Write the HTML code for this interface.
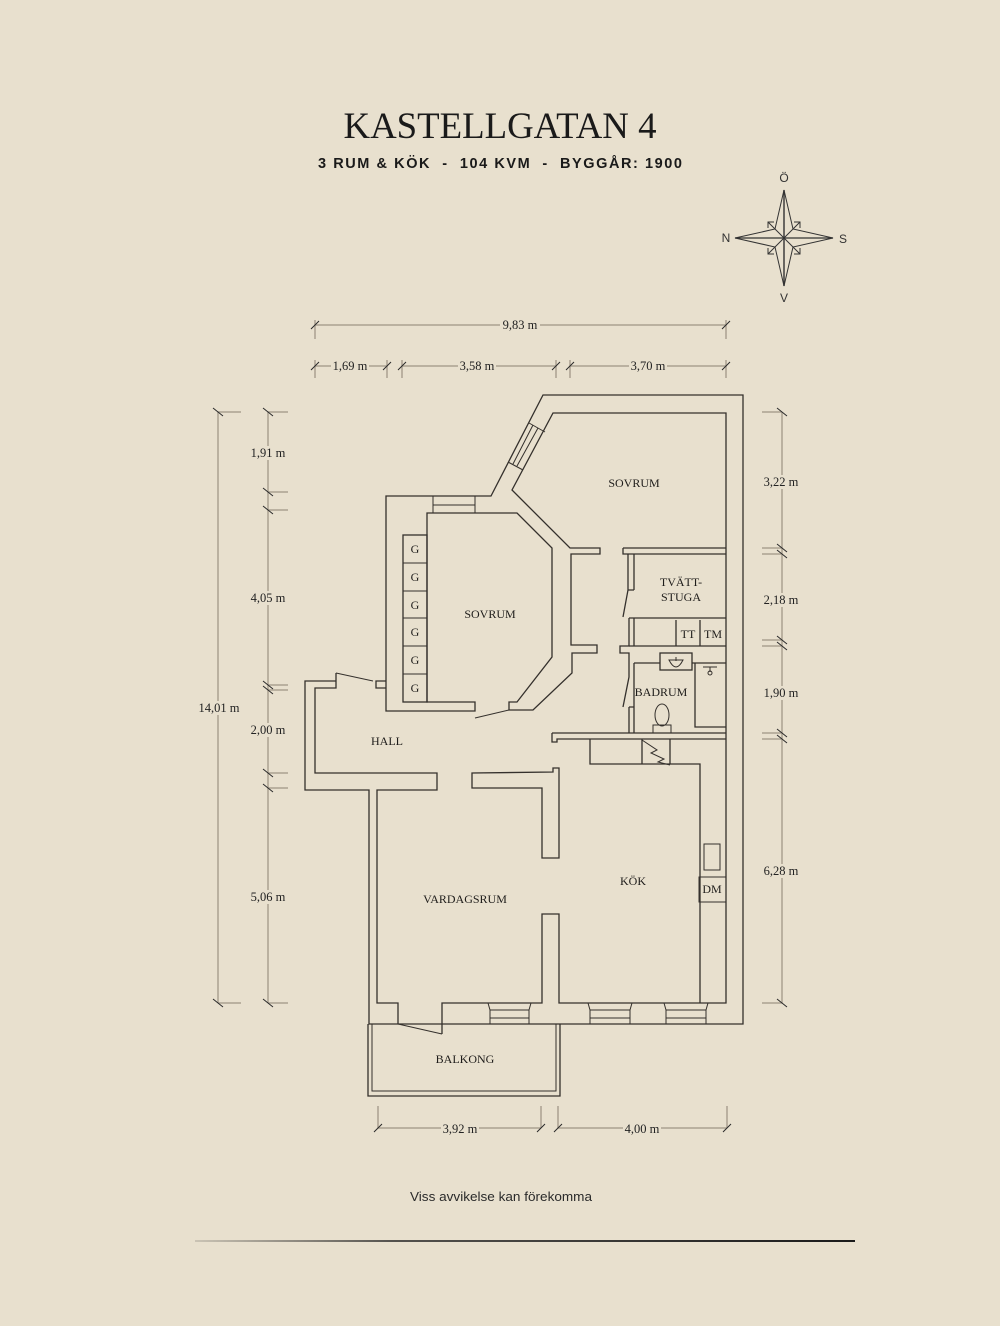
<!DOCTYPE html>
<html>
<head>
<meta charset="utf-8">
<style>
html,body{margin:0;padding:0;background:#e8e0ce;}
svg{display:block;}
.rl{font-family:"Liberation Serif",serif;font-size:12px;fill:#1e1c1a;text-anchor:middle;}
.dl{font-family:"Liberation Serif",serif;font-size:12.5px;fill:#222;text-anchor:middle;}
</style>
</head>
<body>
<svg width="1000" height="1326" viewBox="0 0 1000 1326" xmlns="http://www.w3.org/2000/svg">
<defs>
<linearGradient id="fl" gradientUnits="userSpaceOnUse" x1="195" y1="1241" x2="855" y2="1241">
<stop offset="0" stop-color="#222" stop-opacity="0.15"/>
<stop offset="0.3" stop-color="#222" stop-opacity="0.75"/>
<stop offset="1" stop-color="#1a1a1a" stop-opacity="1"/>
</linearGradient>
</defs>
<rect x="0" y="0" width="1000" height="1326" fill="#e8e0ce"/>

<!-- Header -->
<text x="500" y="138" text-anchor="middle" font-family="Liberation Serif, serif" font-size="37" fill="#1a1a1a" textLength="313" lengthAdjust="spacingAndGlyphs">KASTELLGATAN 4</text>
<text x="500" y="168" text-anchor="middle" font-family="Liberation Sans, sans-serif" font-size="14.5" font-weight="bold" fill="#1a1a1a" xml:space="preserve" textLength="364" lengthAdjust="spacing">3 RUM &amp; KÖK  -  104 KVM  -  BYGGÅR: 1900</text>

<!-- Compass -->
<g stroke="#333" stroke-width="1" fill="none">
<polygon points="784,190 793,229 833,238 793,247 784,286 775,247 735,238 775,229"/>
<line x1="784" y1="190" x2="784" y2="286" stroke-width="1.4"/>
<line x1="735" y1="238" x2="833" y2="238" stroke-width="1.2"/>
<line x1="775" y1="229" x2="793" y2="247"/>
<line x1="793" y1="229" x2="775" y2="247"/>
<line x1="775" y1="229" x2="768" y2="222"/><polyline points="768,228 768,222 774,222"/>
<line x1="793" y1="229" x2="800" y2="222"/><polyline points="794,222 800,222 800,228"/>
<line x1="775" y1="247" x2="768" y2="254"/><polyline points="768,248 768,254 774,254"/>
<line x1="793" y1="247" x2="800" y2="254"/><polyline points="794,254 800,254 800,248"/>
</g>
<g font-family="Liberation Sans, sans-serif" font-size="12" fill="#333" text-anchor="middle">
<text x="784" y="182">Ö</text>
<text x="726" y="242">N</text>
<text x="843" y="243">S</text>
<text x="784" y="302">V</text>
</g>

<!-- Dimension lines -->
<g stroke="#aaa191" stroke-width="1.5" fill="none">
<line x1="315" y1="325" x2="726" y2="325"/>
<line x1="315" y1="320" x2="315" y2="339"/><line x1="726" y1="320" x2="726" y2="339"/>
<line x1="315" y1="366" x2="387" y2="366"/>
<line x1="402" y1="366" x2="556" y2="366"/>
<line x1="570" y1="366" x2="726" y2="366"/>
<line x1="315" y1="360" x2="315" y2="378"/><line x1="387" y1="360" x2="387" y2="378"/>
<line x1="402" y1="360" x2="402" y2="378"/><line x1="556" y1="360" x2="556" y2="378"/>
<line x1="570" y1="360" x2="570" y2="378"/><line x1="726" y1="360" x2="726" y2="378"/>
<line x1="218" y1="412" x2="218" y2="1003"/>
<line x1="218" y1="412" x2="241" y2="412"/><line x1="218" y1="1003" x2="241" y2="1003"/>
<line x1="268" y1="412" x2="268" y2="1003"/>
<line x1="268" y1="412" x2="288" y2="412"/>
<line x1="268" y1="492" x2="288" y2="492"/>
<line x1="268" y1="510" x2="288" y2="510"/>
<line x1="268" y1="685" x2="288" y2="685"/>
<line x1="268" y1="690" x2="288" y2="690"/>
<line x1="268" y1="773" x2="288" y2="773"/>
<line x1="268" y1="788" x2="288" y2="788"/>
<line x1="268" y1="1003" x2="288" y2="1003"/>
<line x1="782" y1="412" x2="782" y2="1003"/>
<line x1="762" y1="412" x2="782" y2="412"/>
<line x1="762" y1="548" x2="782" y2="548"/>
<line x1="762" y1="554" x2="782" y2="554"/>
<line x1="762" y1="640" x2="782" y2="640"/>
<line x1="762" y1="646" x2="782" y2="646"/>
<line x1="762" y1="733" x2="782" y2="733"/>
<line x1="762" y1="739" x2="782" y2="739"/>
<line x1="762" y1="1003" x2="782" y2="1003"/>
<line x1="378" y1="1128" x2="541" y2="1128"/>
<line x1="558" y1="1128" x2="727" y2="1128"/>
<line x1="378" y1="1106" x2="378" y2="1128"/><line x1="541" y1="1106" x2="541" y2="1128"/>
<line x1="558" y1="1106" x2="558" y2="1128"/><line x1="727" y1="1106" x2="727" y2="1128"/>
</g>
<g stroke="#2a2a2a" stroke-width="1" fill="none">
<path d="M311,329 L319,321 M722,329 L730,321"/>
<path d="M311,370 L319,362 M383,370 L391,362 M398,370 L406,362 M552,370 L560,362 M566,370 L574,362 M722,370 L730,362"/>
<path d="M213,408 L223,416 M213,999 L223,1007"/>
<path d="M263,408 L273,416 M263,488 L273,496 M263,506 L273,514 M263,681 L273,689 M263,686 L273,694 M263,769 L273,777 M263,784 L273,792 M263,999 L273,1007"/>
<path d="M777,408 L787,416 M777,544 L787,552 M777,550 L787,558 M777,636 L787,644 M777,642 L787,650 M777,729 L787,737 M777,735 L787,743 M777,999 L787,1007"/>
<path d="M374,1132 L382,1124 M537,1132 L545,1124 M554,1132 L562,1124 M723,1132 L731,1124"/>
</g>
<g fill="#e8e0ce">
<rect x="500" y="318" width="40" height="14"/>
<rect x="331" y="359" width="38" height="14"/>
<rect x="458" y="359" width="38" height="14"/>
<rect x="629" y="359" width="38" height="14"/>
<rect x="196" y="701" width="46" height="14"/>
<rect x="249" y="446" width="38" height="14"/>
<rect x="249" y="591" width="38" height="14"/>
<rect x="249" y="723" width="38" height="14"/>
<rect x="249" y="890" width="38" height="14"/>
<rect x="762" y="475" width="38" height="14"/>
<rect x="762" y="593" width="38" height="14"/>
<rect x="762" y="686" width="38" height="14"/>
<rect x="762" y="864" width="38" height="14"/>
<rect x="441" y="1122" width="38" height="14"/>
<rect x="623" y="1122" width="38" height="14"/>
</g>
<g class="dl">
<text class="dl" x="520" y="329">9,83 m</text>
<text class="dl" x="350" y="370">1,69 m</text>
<text class="dl" x="477" y="370">3,58 m</text>
<text class="dl" x="648" y="370">3,70 m</text>
<text class="dl" x="219" y="712">14,01 m</text>
<text class="dl" x="268" y="457">1,91 m</text>
<text class="dl" x="268" y="602">4,05 m</text>
<text class="dl" x="268" y="734">2,00 m</text>
<text class="dl" x="268" y="901">5,06 m</text>
<text class="dl" x="781" y="486">3,22 m</text>
<text class="dl" x="781" y="604">2,18 m</text>
<text class="dl" x="781" y="697">1,90 m</text>
<text class="dl" x="781" y="875">6,28 m</text>
<text class="dl" x="460" y="1133">3,92 m</text>
<text class="dl" x="642" y="1133">4,00 m</text>
</g>

<!-- Walls -->
<g fill="none" stroke="#34302c" stroke-width="1.3" stroke-linejoin="miter">
<path d="M336,681 L305,681 L305,790 L369,790 L369,1024 L743,1024 L743,395 L543,395 L491,496 L386,496 L386,711 L475,711 L475,702 L427,702 L427,513 L517,513 L552,548 L552,657 L517,702 L509,702 L509,710 L533,710 L572,673 L572,653 L597,653 L597,645 L571,645 L571,554 L600,554 L600,548 L570,548 L512,490 L553,413 L726,413 L726,1003 L559,1003 L559,914 L542,914 L542,1003 L442,1003 L442,1034"/>
<path d="M336,673 L336,688 L315,688 L315,773 L437,773 L437,790 L377,790 L377,1003 L398,1003 L398,1024"/>
<path d="M472,773 L553,772 L553,768 L559,768 L559,858 L542,858 L542,788 L472,788 Z"/>
<path d="M386,681 L376,681 L376,688 L386,688"/>
<path d="M336,673 L373,681" stroke-width="1"/>
<path d="M475,718 L509,710" stroke-width="1"/>
<path d="M398,1024 L442,1034" stroke-width="1"/>
<path d="M623,548 L726,548 M623,548 L623,554 L628,554 M628,554 L726,554"/>
<path d="M628,554 L628,590 L623,617 M628,590 L634,590"/>
<path d="M629,618 L629,646 L620,646 L620,653 L629,653 L629,677 L623,707 M629,707 L629,733"/>
<path d="M634,554 L634,590 M634,618 L634,646 M634,663 L634,733 M629,618 L634,618 M629,707 L634,707"/>
<path d="M634,618 L726,618 M629,646 L726,646 M676,620 L676,646 M700,620 L700,646"/>
<path d="M634,663 L660,663 M692,663 L726,663"/>
<rect x="660" y="653" width="32" height="17"/>
<path d="M669,660 Q676,674 683,660 Z" stroke-width="1"/>
<path d="M676,657 L676,661" stroke-width="1"/>
<path d="M695,663 L695,727 L726,727"/>
<path d="M703,667 L717,667 M710,667 L710,672" stroke-width="1"/>
<circle cx="710" cy="673" r="2" stroke-width="1"/>
<ellipse cx="662" cy="715" rx="7" ry="11" stroke-width="1"/>
<rect x="653" y="725" width="18" height="8" stroke-width="1"/>
<path d="M552,733 L726,733 M552,733 L552,742 L557,742 L557,739 L726,739"/>
<path d="M590,739 L590,764 L700,764 L700,1003 M642,739 L642,764 M670,739 L670,764"/>
<path d="M642,740 L657,750 L651,753 L664,759 L658,762 L670,765" stroke-width="1"/>
<rect x="704" y="844" width="16" height="26" stroke-width="1"/>
<rect x="699" y="877" width="27" height="25" stroke-width="1"/>
<path d="M488,1003 L490,1010 L490,1024 M531,1003 L529,1010 L529,1024 M490,1010 L529,1010 M490,1018 L529,1018" stroke-width="1"/>
<path d="M588,1003 L590,1010 L590,1024 M632,1003 L630,1010 L630,1024 M590,1010 L630,1010 M590,1018 L630,1018" stroke-width="1"/>
<path d="M664,1003 L666,1010 L666,1024 M708,1003 L706,1010 L706,1024 M666,1010 L706,1010 M666,1018 L706,1018" stroke-width="1"/>
<path d="M433,496 L433,513 M475,496 L475,513 M433,505 L475,505" stroke-width="1"/>
<path d="M529,423 L545,432 M508,462 L523,470 M533,425 L513,464 M538,428 L517,466" stroke-width="1"/>
<rect x="403" y="535" width="24" height="167"/>
<path d="M403,563 L427,563 M403,591 L427,591 M403,618 L427,618 M403,646 L427,646 M403,674 L427,674" stroke-width="1"/>
<path d="M368,1024 L368,1096 L560,1096 L560,1024"/>
<path d="M372,1024 L372,1091 L556,1091 L556,1024" stroke-width="1"/>
</g>

<!-- Room labels -->
<g class="rl">
<text class="rl" x="634" y="487">SOVRUM</text>
<text class="rl" x="490" y="618">SOVRUM</text>
<text class="rl" x="681" y="586">TVÄTT-</text>
<text class="rl" x="681" y="601">STUGA</text>
<text class="rl" x="688" y="638" font-size="11">TT</text>
<text class="rl" x="713" y="638" font-size="11">TM</text>
<text class="rl" x="661" y="696">BADRUM</text>
<text class="rl" x="387" y="745">HALL</text>
<text class="rl" x="633" y="885">KÖK</text>
<text class="rl" x="465" y="903">VARDAGSRUM</text>
<text class="rl" x="712" y="893" font-size="11">DM</text>
<text class="rl" x="465" y="1063">BALKONG</text>
<text class="rl" x="415" y="553" font-size="11">G</text>
<text class="rl" x="415" y="581" font-size="11">G</text>
<text class="rl" x="415" y="609" font-size="11">G</text>
<text class="rl" x="415" y="636" font-size="11">G</text>
<text class="rl" x="415" y="664" font-size="11">G</text>
<text class="rl" x="415" y="692" font-size="11">G</text>
</g>

<!-- Footer -->
<text x="501" y="1201" text-anchor="middle" font-family="Liberation Sans, sans-serif" font-size="13" fill="#2a2a2a" textLength="182" lengthAdjust="spacingAndGlyphs">Viss avvikelse kan förekomma</text>
<rect x="195" y="1240" width="660" height="2" fill="url(#fl)"/>
</svg>
</body>
</html>
